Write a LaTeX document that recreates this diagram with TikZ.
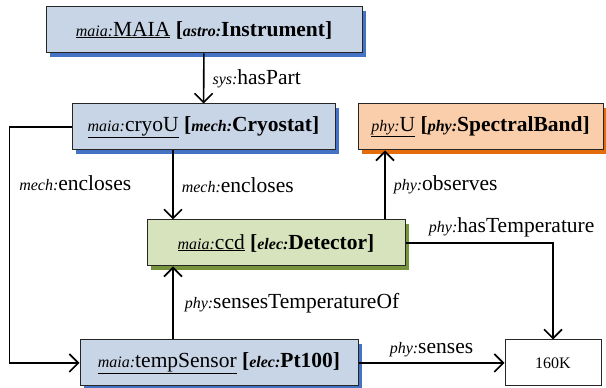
\documentclass[tikz,border=0pt]{standalone}
\usepackage{fontspec}
\setmainfont{Liberation Serif}
\newfontfamily\timesfont{Liberation Serif}
\usetikzlibrary{arrows.meta,shadows}
\definecolor{boxblue}{RGB}{200,213,230}
\definecolor{shblue}{RGB}{68,114,196}
\definecolor{boxorange}{RGB}{250,206,170}
\definecolor{shorange}{RGB}{228,108,10}
\definecolor{boxgreen}{RGB}{215,227,188}
\definecolor{shgreen}{RGB}{119,147,60}
\newcommand{\pre}[1]{{\fontsize{16}{16}\selectfont\itshape #1}}
\newcommand{\ent}[3]{\underline{\pre{#1}#2} \textbf{[\pre{#3}}}
\begin{document}
\begin{tikzpicture}[x=1pt,y=1pt,font=\timesfont\fontsize{21.5}{22}\selectfont,
  thing/.style={draw=black!85,line width=1pt,inner sep=0pt,minimum height=46pt},
  blueshadow/.style={fill=boxblue,drop shadow={shadow xshift=4pt,shadow yshift=-4pt,fill=shblue,opacity=1}},
  link/.style={line width=1.6pt,-{Straight Barb[length=9pt,width=18pt,line width=1.6pt]}},
  lbl/.style={inner sep=0pt}]
\useasboundingbox (0,0) rectangle (606,388);
% the five instances and the literal
\node[thing,blueshadow,minimum width=316pt] (maia) at (204,358) {\ent{maia:}{MAIA}{astro:}\textbf{Instrument]}};
\node[thing,blueshadow,minimum width=263pt] (cryo) at (203.5,261) {\ent{maia:}{cryoU}{mech:}\textbf{Cryostat]}};
\node[thing,fill=boxorange,minimum width=245pt,
  drop shadow={shadow xshift=4pt,shadow yshift=-4pt,fill=shorange,opacity=1}] (band) at (480.5,261) {\ent{phy:}{U}{phy:}\textbf{SpectralBand]}};
\node[thing,fill=boxgreen,minimum width=258pt,
  drop shadow={shadow xshift=4pt,shadow yshift=-4pt,fill=shgreen,opacity=1}] (ccd) at (276,145) {\ent{maia:}{ccd}{elec:}\textbf{Detector]}};
\node[thing,blueshadow,minimum width=278pt] (temp) at (219,25) {\ent{maia:}{tempSensor}{elec:}\textbf{Pt100]}};
\node[thing,fill=white,minimum width=96pt,font=\timesfont\fontsize{16}{16}\selectfont] (kelvin) at (553,25) {160K};
% properties
\draw[link] (maia) -- (cryo) node[lbl,midway,right=8pt] {\pre{sys:}hasPart};
\draw[link] (cryo.west) -- ++(-62,0) |- (temp.west) node[lbl,pos=0.12,right=9pt] {\pre{mech:}encloses};
\draw[link] ([xshift=-30.5pt]cryo.south) -- ([xshift=-30.5pt]cryo.south |- ccd.north)
  node[lbl,midway,right=8pt] {\pre{mech:}encloses};
\draw[link] ([xshift=109pt]ccd.north) -- ([xshift=109pt]ccd.north |- band.south)
  node[lbl,midway,right=8pt] {\pre{phy:}observes};
\draw[link] (ccd.east) -| (kelvin.north) node[lbl,pos=0.36,above=5pt] {\pre{phy:}hasTemperature};
\draw[link] ([xshift=-46pt]temp.north) -- ([xshift=-46pt]temp.north |- ccd.south)
  node[lbl,midway,right=11pt] {\pre{phy:}sensesTemperatureOf};
\draw[link] (temp.east) -- (kelvin.west) node[lbl,midway,above=5pt] {\pre{phy:}senses};
\end{tikzpicture}
\end{document}
